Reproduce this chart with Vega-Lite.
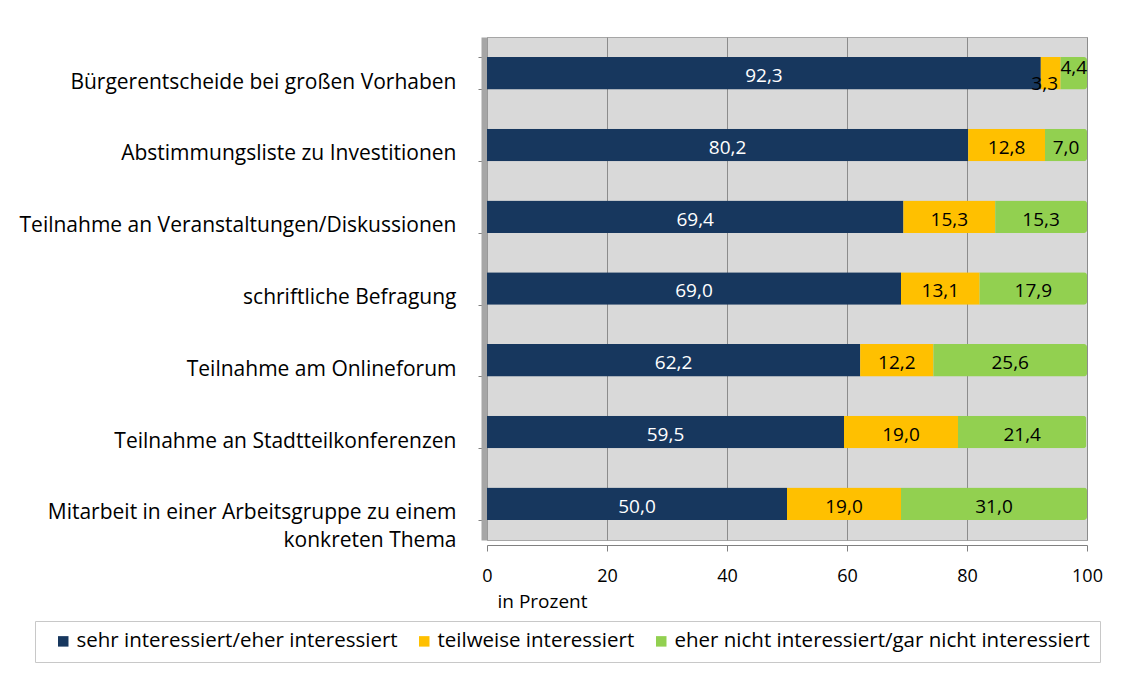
{
  "$schema": "https://vega.github.io/schema/vega-lite/v6.json",
  "width": 600,
  "height": 503,
  "autosize": "none",
  "padding": {"left": 487, "top": 37, "right": 47, "bottom": 137},
  "background": "white",
  "config": {
    "locale": {"number": {"decimal": ",", "thousands": ".", "grouping": [3], "currency": ["", " €"]}},
    "font": "Open Sans",
    "view": {"fill": "#d9d9d9", "stroke": "#a6a6a6"}
  },
  "data": {
    "values": [
      {"item": "Bürgerentscheide bei großen Vorhaben", "group": "sehr interessiert/eher interessiert", "k": 1, "value": 92.3},
      {"item": "Bürgerentscheide bei großen Vorhaben", "group": "teilweise interessiert", "k": 2, "value": 3.3},
      {"item": "Bürgerentscheide bei großen Vorhaben", "group": "eher nicht interessiert/gar nicht interessiert", "k": 3, "value": 4.4},
      {"item": "Abstimmungsliste zu Investitionen", "group": "sehr interessiert/eher interessiert", "k": 1, "value": 80.2},
      {"item": "Abstimmungsliste zu Investitionen", "group": "teilweise interessiert", "k": 2, "value": 12.8},
      {"item": "Abstimmungsliste zu Investitionen", "group": "eher nicht interessiert/gar nicht interessiert", "k": 3, "value": 7.0},
      {"item": "Teilnahme an Veranstaltungen/Diskussionen", "group": "sehr interessiert/eher interessiert", "k": 1, "value": 69.4},
      {"item": "Teilnahme an Veranstaltungen/Diskussionen", "group": "teilweise interessiert", "k": 2, "value": 15.3},
      {"item": "Teilnahme an Veranstaltungen/Diskussionen", "group": "eher nicht interessiert/gar nicht interessiert", "k": 3, "value": 15.3},
      {"item": "schriftliche Befragung", "group": "sehr interessiert/eher interessiert", "k": 1, "value": 69.0},
      {"item": "schriftliche Befragung", "group": "teilweise interessiert", "k": 2, "value": 13.1},
      {"item": "schriftliche Befragung", "group": "eher nicht interessiert/gar nicht interessiert", "k": 3, "value": 17.9},
      {"item": "Teilnahme am Onlineforum", "group": "sehr interessiert/eher interessiert", "k": 1, "value": 62.2},
      {"item": "Teilnahme am Onlineforum", "group": "teilweise interessiert", "k": 2, "value": 12.2},
      {"item": "Teilnahme am Onlineforum", "group": "eher nicht interessiert/gar nicht interessiert", "k": 3, "value": 25.6},
      {"item": "Teilnahme an Stadtteilkonferenzen", "group": "sehr interessiert/eher interessiert", "k": 1, "value": 59.5},
      {"item": "Teilnahme an Stadtteilkonferenzen", "group": "teilweise interessiert", "k": 2, "value": 19.0},
      {"item": "Teilnahme an Stadtteilkonferenzen", "group": "eher nicht interessiert/gar nicht interessiert", "k": 3, "value": 21.4},
      {"item": "Mitarbeit in einer Arbeitsgruppe zu einem konkreten Thema", "group": "sehr interessiert/eher interessiert", "k": 1, "value": 50.0},
      {"item": "Mitarbeit in einer Arbeitsgruppe zu einem konkreten Thema", "group": "teilweise interessiert", "k": 2, "value": 19.0},
      {"item": "Mitarbeit in einer Arbeitsgruppe zu einem konkreten Thema", "group": "eher nicht interessiert/gar nicht interessiert", "k": 3, "value": 31.0}
    ]
  },
  "encoding": {
    "y": {
      "field": "item",
      "type": "nominal",
      "sort": null,
      "scale": {"paddingInner": 0.55, "paddingOuter": 0.28},
      "axis": {
        "title": null,
        "labelFontSize": 21,
        "labelColor": "#000000",
        "labelPadding": 22,
        "labelLimit": 500,
        "labelLineHeight": 28,
        "labelOffset": 9,
        "labelExpr": "datum.label == 'Mitarbeit in einer Arbeitsgruppe zu einem konkreten Thema' ? ['Mitarbeit in einer Arbeitsgruppe zu einem', 'konkreten Thema'] : datum.label",
        "tickBand": "extent",
        "tickSize": 6,
        "tickColor": "#808080",
        "domainColor": "#a6a6a6",
        "domainWidth": 6,
        "offset": 3
      }
    },
    "x": {
      "field": "value",
      "type": "quantitative",
      "stack": "zero",
      "scale": {"domain": [0, 100], "nice": false},
      "axis": {
        "title": "in Prozent",
        "titleFontSize": 19,
        "titleFontWeight": "normal",
        "titleColor": "#000000",
        "titleAlign": "left",
        "titleAnchor": "start",
        "titleBaseline": "middle",
        "titleX": 10,
        "titleY": 56,
        "values": [0, 20, 40, 60, 80, 100],
        "labelFontSize": 18,
        "labelColor": "#000000",
        "labelPadding": 16,
        "tickSize": 6,
        "tickColor": "#808080",
        "domainColor": "#808080",
        "offset": 5,
        "grid": true,
        "gridColor": "#8c8c8c",
        "labelFlush": false
      }
    },
    "order": {"field": "k", "type": "quantitative"}
  },
  "layer": [
    {
      "mark": {"type": "bar", "cornerRadiusEnd": 3},
      "encoding": {
        "color": {
          "field": "group",
          "type": "nominal",
          "scale": {
            "domain": ["sehr interessiert/eher interessiert", "teilweise interessiert", "eher nicht interessiert/gar nicht interessiert"],
            "range": ["#17375e", "#ffc000", "#92d050"]
          },
          "legend": {
            "title": null,
            "orient": "none",
            "direction": "horizontal",
            "legendX": -452,
            "legendY": 584,
            "padding": 10,
            "strokeColor": "#c8c8c8",
            "fillColor": "#ffffff",
            "symbolType": "square",
            "symbolSize": 110,
            "symbolStrokeWidth": 0,
            "labelFontSize": 20.5,
            "labelColor": "#000000",
            "labelLimit": 600,
            "columnPadding": 8,
            "symbolOffset": 8,
            "labelOffset": 3
          }
        }
      }
    },
    {
      "mark": {"type": "text", "fontSize": 19, "dy": 3},
      "encoding": {
        "x": {"field": "value", "type": "quantitative", "stack": "zero", "bandPosition": 0.5},
        "yOffset": {"value": {"expr": "datum.value < 5 ? (datum.k === 2 ? 24 : 8) : 16"}},
        "xOffset": {"value": {"expr": "datum.value < 5 && datum.k === 2 ? -6 : 0"}},
        "text": {"field": "value", "type": "quantitative", "format": ".1f"},
        "color": {"condition": {"test": "datum.k === 1", "value": "#ffffff"}, "value": "#000000"}
      }
    }
  ]
}
